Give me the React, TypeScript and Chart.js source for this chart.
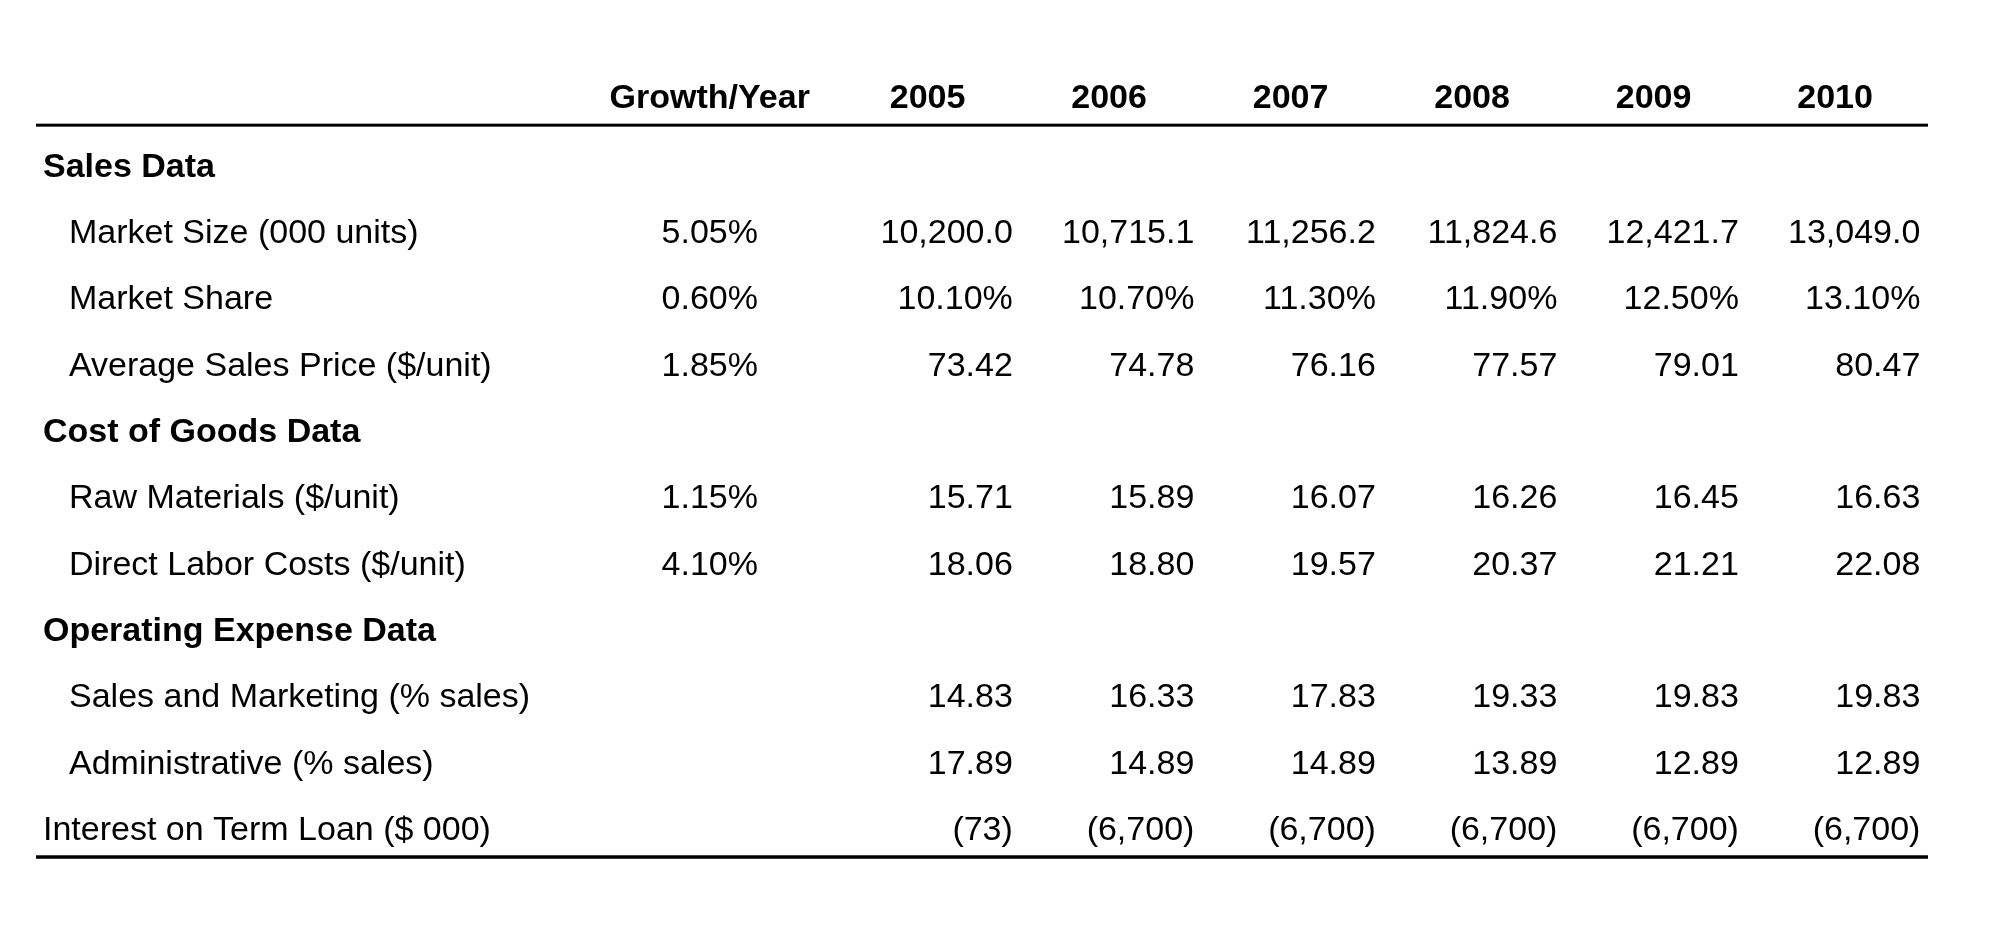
import React, { useEffect, useRef } from 'react';
import { Chart, registerables } from 'chart.js';

Chart.register(...registerables);

// ---------- data ----------
const years = [2005, 2006, 2007, 2008, 2009, 2010];
const growthHeader = 'Growth/Year';

const rowLabels = [
  'Sales Data',
  'Market Size (000 units)',
  'Market Share',
  'Average Sales Price ($/unit)',
  'Cost of Goods Data',
  'Raw Materials ($/unit)',
  'Direct Labor Costs ($/unit)',
  'Operating Expense Data',
  'Sales and Marketing (% sales)',
  'Administrative (% sales)',
  'Interest on Term Loan ($ 000)',
];
const sectionRows = ['Sales Data', 'Cost of Goods Data', 'Operating Expense Data'];
const flushRows = ['Interest on Term Loan ($ 000)'];

const growthRates: (number | null)[] = [null, 5.05, 0.6, 1.85, null, 1.15, 4.1, null, null, null, null];

const marketSize = [10200.0, 10715.1, 11256.2, 11824.6, 12421.7, 13049.0];
const marketShare = [10.1, 10.7, 11.3, 11.9, 12.5, 13.1];
const avgSalesPrice = [73.42, 74.78, 76.16, 77.57, 79.01, 80.47];
const rawMaterials = [15.71, 15.89, 16.07, 16.26, 16.45, 16.63];
const directLabor = [18.06, 18.8, 19.57, 20.37, 21.21, 22.08];
const salesMarketing = [14.83, 16.33, 17.83, 19.33, 19.83, 19.83];
const administrative = [17.89, 14.89, 14.89, 13.89, 12.89, 12.89];
const interestTermLoan = [-73, -6700, -6700, -6700, -6700, -6700];

// ---------- formatting ----------
const num = (v: number, d: number) =>
  Math.abs(v).toLocaleString('en-US', { minimumFractionDigits: d, maximumFractionDigits: d });
const fmtDec1 = (v: number) => num(v, 1);
const fmtDec2 = (v: number) => num(v, 2);
const fmtPct = (v: number) => num(v, 2) + '%';
const fmtParen = (v: number) => (v < 0 ? '(' + num(v, 0) + ')' : num(v, 0));

const yearRows: { values: number[]; fmt: (v: number) => string }[] = [
  { values: marketSize, fmt: fmtDec1 },
  { values: marketShare, fmt: fmtPct },
  { values: avgSalesPrice, fmt: fmtDec2 },
  { values: rawMaterials, fmt: fmtDec2 },
  { values: directLabor, fmt: fmtDec2 },
  { values: salesMarketing, fmt: fmtDec2 },
  { values: administrative, fmt: fmtDec2 },
  { values: interestTermLoan, fmt: fmtParen },
];
const yearRowLabels = [
  'Market Size (000 units)',
  'Market Share',
  'Average Sales Price ($/unit)',
  'Raw Materials ($/unit)',
  'Direct Labor Costs ($/unit)',
  'Sales and Marketing (% sales)',
  'Administrative (% sales)',
  'Interest on Term Loan ($ 000)',
];

// ---------- layout constants ----------
const GROWTH_X = 2003.8;
const X_MIN = 2000.088;
const X_MAX = 2010.512;
const HEADER_ROW = -0.035;
const VALUE_RIGHT = 0.47; // right edge of values relative to column center (in scale units)
const TOP_RULE = 0.407;
const BOTTOM_RULE = 11.44;
const FONT_FAMILY = '"Liberation Sans", Arial, sans-serif';
const FONT_SIZE = 34;

const rowIndex = (label: string) => rowLabels.indexOf(label) + 1;

const tablePlugin = {
  id: 'tableText',
  afterDatasetsDraw(chart: any) {
    const ctx = chart.ctx as CanvasRenderingContext2D;
    const { left, right } = chart.chartArea;
    const xs = chart.scales.x;
    const ys = chart.scales.y;
    ctx.save();
    ctx.fillStyle = '#000';
    const t = ys.getPixelForValue(TOP_RULE);
    ctx.fillRect(left, t - 1.5, right - left, 3);
    const b = ys.getPixelForValue(BOTTOM_RULE);
    ctx.fillRect(left, b - 1.75, right - left, 3.5);

    const unit = xs.getPixelForValue(X_MIN + 1) - xs.getPixelForValue(X_MIN);
    chart.data.datasets.forEach((ds: any, di: number) => {
      const meta = chart.getDatasetMeta(di);
      meta.data.forEach((pt: any, i: number) => {
        const text = ds.cellText[i];
        if (!text) return;
        const bold = ds.cellBold ? ds.cellBold[i] : false;
        ctx.font = (bold ? 'bold ' : '') + FONT_SIZE + 'px ' + FONT_FAMILY;
        ctx.textAlign = ds.cellAlign;
        ctx.textBaseline = 'alphabetic';
        let dx = 0;
        if (ds.cellDxUnits) dx = ds.cellDxUnits * unit;
        if (ds.cellDxPx) dx = ds.cellDxPx[i];
        ctx.fillText(text, pt.x + dx, pt.y + FONT_SIZE * 0.358);
      });
    });
    ctx.restore();
  },
};

function buildDatasets() {
  const base = { pointRadius: 0, pointHoverRadius: 0, showLine: false, borderWidth: 0 };
  const datasets: any[] = [];
  datasets.push({
    ...base,
    label: 'header',
    data: [{ x: GROWTH_X, y: HEADER_ROW }, ...years.map((yr) => ({ x: yr, y: HEADER_ROW }))],
    cellText: [growthHeader, ...years.map(String)],
    cellBold: [true, ...years.map(() => true)],
    cellAlign: 'center',
  });
  datasets.push({
    ...base,
    label: 'labels',
    data: rowLabels.map((_, i) => ({ x: X_MIN, y: i + 1 })),
    cellText: rowLabels,
    cellBold: rowLabels.map((l) => sectionRows.includes(l)),
    cellDxPx: rowLabels.map((l) => (sectionRows.includes(l) || flushRows.includes(l) ? 7 : 33)),
    cellAlign: 'left',
  });
  const gIdx = growthRates.map((g, i) => (g === null ? -1 : i)).filter((i) => i >= 0);
  datasets.push({
    ...base,
    label: 'growth',
    data: gIdx.map((i) => ({ x: GROWTH_X, y: i + 1 })),
    cellText: gIdx.map((i) => fmtPct(growthRates[i] as number)),
    cellAlign: 'center',
  });
  years.forEach((yr, c) => {
    datasets.push({
      ...base,
      label: String(yr),
      data: yearRows.map((_, r) => ({ x: yr, y: rowIndex(yearRowLabels[r]) })),
      cellText: yearRows.map((row) => row.fmt(row.values[c])),
      cellAlign: 'right',
      cellDxUnits: VALUE_RIGHT,
    });
  });
  return datasets;
}

export default function App() {
  const ref = useRef<HTMLCanvasElement>(null);
  useEffect(() => {
    document.body.style.margin = '0';
    const canvas = ref.current!;
    const chart = new Chart(canvas, {
      type: 'scatter',
      data: { datasets: buildDatasets() },
      options: {
        animation: false,
        responsive: false,
        devicePixelRatio: 1,
        layout: { padding: { left: 36, right: 76, top: 65, bottom: 91 } },
        plugins: { legend: { display: false }, tooltip: { enabled: false } },
        events: [],
        scales: {
          x: { type: 'linear', min: X_MIN, max: X_MAX, display: false },
          y: { type: 'linear', min: -0.5, max: 11.5, reverse: true, display: false },
        },
      },
      plugins: [tablePlugin],
    } as any);
    return () => chart.destroy();
  }, []);
  return (
    <div style={{ width: 2004, height: 952, background: '#fff' }}>
      <canvas ref={ref} width={2004} height={952} style={{ display: 'block' }} />
    </div>
  );
}
